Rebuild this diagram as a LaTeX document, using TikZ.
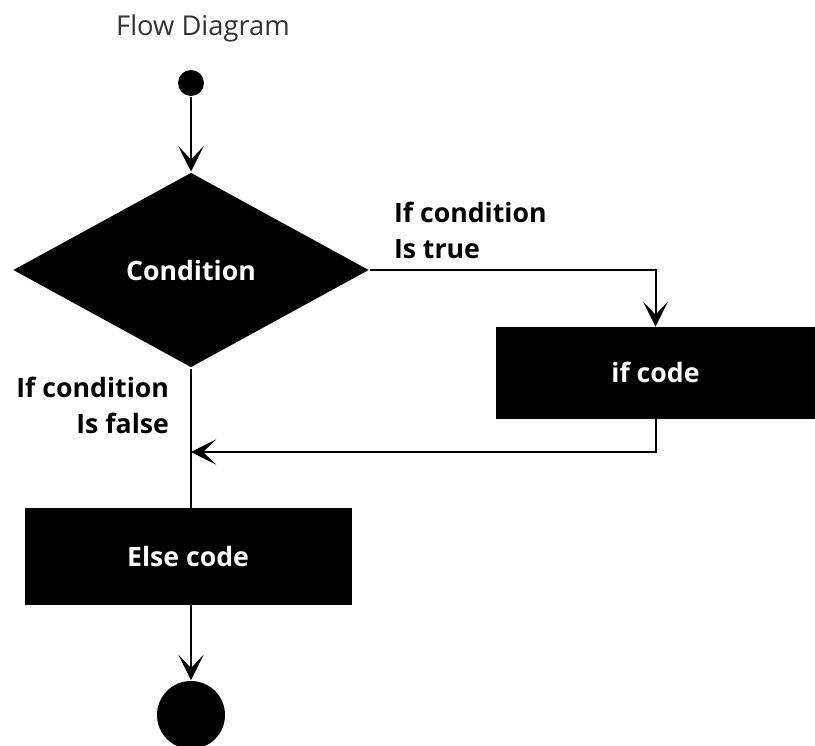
\documentclass[tikz,border=0pt]{standalone}
\usepackage{fontspec}
\setmainfont{Open Sans}
\usetikzlibrary{shapes.geometric,arrows.meta}
\definecolor{titlegray}{HTML}{333333}
\begin{document}
\begin{tikzpicture}[x=0.75pt,y=-0.75pt,
  line width=1.5pt,
  lbl/.style={font=\fontsize{20pt}{27pt}\selectfont\bfseries, inner sep=0pt},
  arr/.style={-{Stealth[length=19pt,width=19pt,inset=10pt]}},
  blackbox/.style={rectangle, fill=black, draw=black, line width=0.5pt, text=white, inner sep=0pt,
     font=\fontsize{20pt}{24pt}\selectfont\bfseries},
  dot/.style={circle, fill=black, draw=none, inner sep=0pt}]
\useasboundingbox (0,0) rectangle (815,746);
\node[font=\fontsize{20.5pt}{24pt}\selectfont, text=titlegray, anchor=base, inner sep=0pt] (title) at (203,36) {Flow Diagram};
\node[dot, minimum size=19.5pt] (start) at (191,83) {};
\node[diamond, fill=black, text=white, inner sep=0pt, aspect=1.83,
      minimum width=267pt, minimum height=146.25pt,
      font=\fontsize{20pt}{24pt}\selectfont\bfseries] (cond) at (191,270) {Condition};
\node[blackbox, minimum width=238.5pt, minimum height=68.25pt] (ifcode) at (655.5,372.5) {if code};
\node[blackbox, minimum width=244.5pt, minimum height=72pt] (else) at (188,556) {Else code};
\node[dot, minimum size=51pt] (stop) at (191,715) {};
\coordinate (join) at (191,452);
\node[lbl, anchor=base west, align=left] (truelbl) at (393,258) {If condition\\Is true};
\node[lbl, anchor=base east, align=right] (falselbl) at (170,433) {If condition\\Is false};
\draw[arr] (start) -- (cond);
\draw[arr] (cond.east) -| (ifcode.north);
\draw[arr] (ifcode.south) |- (join);
\draw (cond.south) -- (cond.south |- else.north);
\draw[arr] (cond.south |- else.south) -- (stop);
\end{tikzpicture}
\end{document}
